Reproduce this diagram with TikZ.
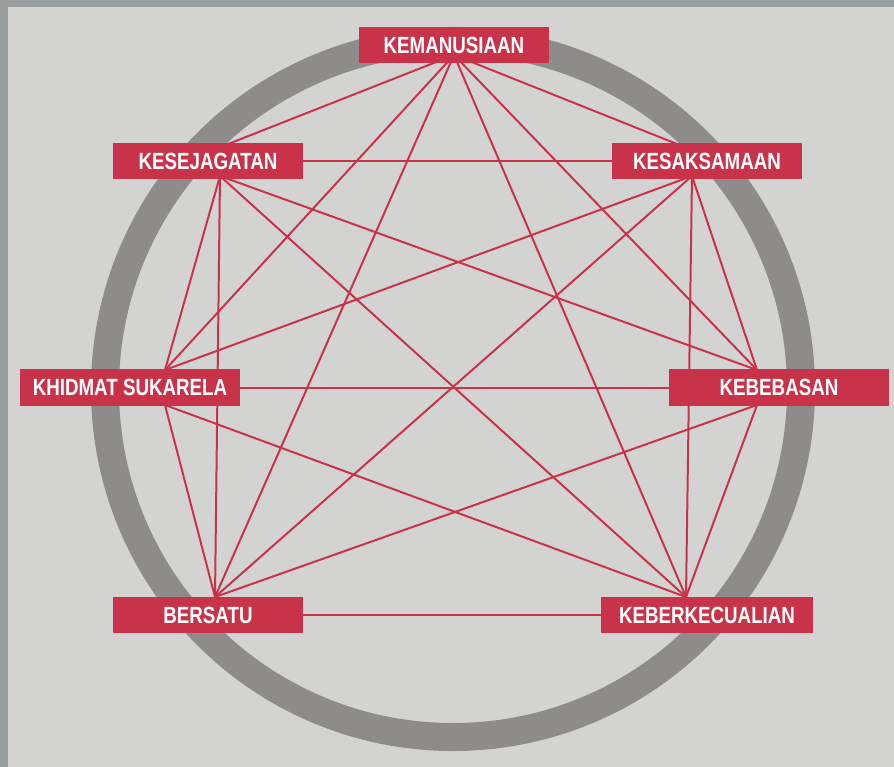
\documentclass[tikz,border=0pt]{standalone}
\usepackage{fontspec}
\setmainfont{Liberation Sans}[FakeStretch=0.8]
\usetikzlibrary{backgrounds}

\definecolor{frame}{HTML}{9B9E9E}
\definecolor{paper}{HTML}{D3D3D1}
\definecolor{ring}{HTML}{8D8C8A}
\definecolor{tagred}{HTML}{C8334A}

\begin{document}
\begin{tikzpicture}[x=0.03cm, y=-0.03cm,
        tag/.style={fill=tagred, text=white, inner sep=0pt, minimum height=1.08cm,
            font=\fontsize{20}{24}\selectfont\bfseries},
        link/.style={draw=tagred, line width=1.7pt}]
        \useasboundingbox (0,0) rectangle (894,767);

        \node [tag, minimum width=5.7cm] (kem) at (454,45) {KEMANUSIAAN};
        \node [tag, minimum width=5.7cm] (sej) at (208,161) {KESEJAGATAN};
        \node [tag, minimum width=5.7cm] (sam) at (707,161) {KESAKSAMAAN};
        \node [tag, minimum width=6.6cm] (khid) at (130,387.5) {KHIDMAT SUKARELA};
        \node [tag, minimum width=6.6cm] (beb) at (779,387.5) {KEBEBASAN};
        \node [tag, minimum width=5.7cm] (ber) at (208,615) {BERSATU};
        \node [tag, minimum width=6.36cm] (kec) at (707,615) {KEBERKECUALIAN};

        % meeting points of the lines behind the boxes
        \coordinate (kemP) at (454,55);
        \coordinate (sejT) at (218,148);
        \coordinate (sejM) at (220,161);
        \coordinate (sejB) at (220,176);
        \coordinate (samT) at (692,150);
        \coordinate (samM) at (692,161);
        \coordinate (samB) at (692,176);
        \coordinate (khidT) at (165,370);
        \coordinate (khidM) at (165,388);
        \coordinate (khidB) at (165,405);
        \coordinate (bebT) at (757,370);
        \coordinate (bebM) at (757,388);
        \coordinate (bebB) at (757,405);
        \coordinate (berP) at (215,597);
        \coordinate (berM) at (215,615);
        \coordinate (kecP) at (686,597);
        \coordinate (kecM) at (686,615);

        \begin{scope}[on background layer]
        \fill [frame] (0,0) rectangle (894,767);
        \fill [paper] (8,7.5) rectangle (894,767);
        \draw [ring, line width=23.9pt] (453,389) circle [radius=10.44cm];

        \draw [link] (kemP) -- (sejT);
        \draw [link] (kemP) -- (samT);
        \draw [link] (kemP) -- (khidT);
        \draw [link] (kemP) -- (bebT);
        \draw [link] (kemP) -- (berP);
        \draw [link] (kemP) -- (kecP);
        \draw [link] (sejM) -- (samM);
        \draw [link] (sejB) -- (khidT);
        \draw [link] (sejB) -- (bebT);
        \draw [link] (sejB) -- (berP);
        \draw [link] (sejB) -- (kecP);
        \draw [link] (samB) -- (khidT);
        \draw [link] (samB) -- (bebT);
        \draw [link] (samB) -- (berP);
        \draw [link] (samB) -- (kecP);
        \draw [link] (khidM) -- (bebM);
        \draw [link] (khidB) -- (berP);
        \draw [link] (khidB) -- (kecP);
        \draw [link] (bebB) -- (berP);
        \draw [link] (bebB) -- (kecP);
        \draw [link] (berM) -- (kecM);
        \end{scope}
\end{tikzpicture}
\end{document}
